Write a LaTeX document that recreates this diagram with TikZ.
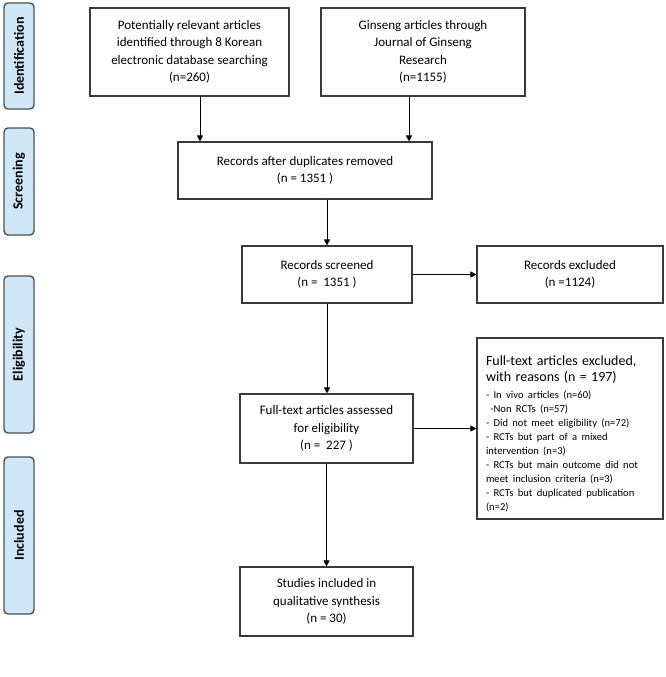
\documentclass[tikz,border=0pt]{standalone}
\usepackage{fontspec}
\setmainfont{Carlito}
\usetikzlibrary{arrows.meta}
\definecolor{stagefill}{HTML}{CFE7F7}
\definecolor{stagedraw}{HTML}{46525E}
\definecolor{boxdraw}{HTML}{3A3A3A}
\begin{document}
\begin{tikzpicture}[x=1pt,y=-1pt,
  box/.style={draw=boxdraw, line width=1.1pt, align=center, inner sep=0pt, font=\fontsize{13}{17.5}\selectfont},
  stage/.style={draw=stagedraw, fill=stagefill, rounded corners=4pt, line width=1.4pt, inner sep=0pt, rotate=90, minimum height=30pt, font=\bfseries\fontsize{14}{16}\selectfont},
  arr/.style={-{Triangle[length=6pt,width=6pt]}, draw=black, line width=0.9pt}]
\useasboundingbox (0,0) rectangle (666,677);
% stage labels
\node[stage, minimum width=106pt] (sid) at (19,56) {Identification};
\node[stage, minimum width=107pt] (sscr) at (19,181.5) {Screening};
\node[stage, minimum width=157pt] (selig) at (19,354.5) {Eligibility};
\node[stage, minimum width=157pt] (sinc) at (19,535.5) {Included};
% boxes
\node[box, minimum width=199pt, minimum height=88pt] (tl) at (189.5,52) {Potentially relevant articles\\identified through 8 Korean\\electronic database searching\\(n=260)};
\node[box, minimum width=204pt, minimum height=88pt] (tr) at (423,52) {Ginseng articles through\\Journal of Ginseng\\Research\\(n=1155)};
\node[box, minimum width=254pt, minimum height=57pt] (dup) at (305,170.5) {Records after duplicates removed\\(n = 1351 )};
\node[box, minimum width=170pt, minimum height=57pt] (scr) at (327,274.5) {Records screened\\(n =\ \ 1351 )};
\node[box, minimum width=186pt, minimum height=57pt] (exc) at (570,274.5) {Records excluded\\(n =1124)};
\node[box, minimum width=173pt, minimum height=69pt] (full) at (326.5,428.5) {Full-text articles assessed\\for eligibility\\(n =\ \ 227 )};
\node[box, minimum width=173pt, minimum height=69pt] (stud) at (326.5,601.5) {Studies included in\\qualitative synthesis\\(n = 30)};
\node[box, minimum width=186pt, minimum height=181pt, text width=168pt, inner xsep=9pt, align=left] (exc2) at (570,428.5) {%
\vskip 3pt
\fontsize{14}{16.5}\selectfont
Full-text articles excluded,\par
with reasons (n = 197)\par
\vskip 2.5pt
\fontsize{10.6}{14}\selectfont
- In vivo articles (n=60)\par
\ -Non RCTs (n=57)\par
- Did not meet eligibility (n=72)\par
- RCTs but part of a mixed\par
intervention (n=3)\par
- RCTs but main outcome did not\par
meet inclusion criteria (n=3)\par
- RCTs but duplicated publication\par
(n=2)\par};
% arrows
\draw[arr] ([xshift=10.5pt]tl.south) -- ([xshift=10.5pt]tl.south |- dup.north);
\draw[arr] ([xshift=-14pt]tr.south) -- ([xshift=-14pt]tr.south |- dup.north);
\draw[arr] (dup.south -| scr.north) -- (scr.north);
\draw[arr] (scr.east) -- (exc.west);
\draw[arr] (scr.south) -- (scr.south |- full.north);
\draw[arr] (full.east) -- (full.east -| exc2.west);
\draw[arr] (full.south) -- (stud.north);
\end{tikzpicture}
\end{document}
